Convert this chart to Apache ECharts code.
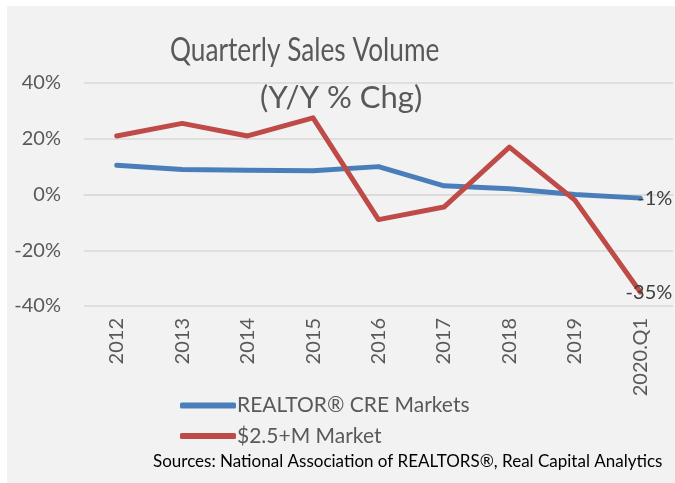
<!DOCTYPE html>
<html><head><meta charset="utf-8">
<script src="https://cdn.jsdelivr.net/npm/echarts@6/dist/echarts.min.js"></script>
<style>html,body{margin:0;padding:0;background:#fff;}#c{position:absolute;left:7px;top:6px;width:668px;height:477px;background:#f2f2f2;}</style>
</head><body><div id="c"></div>
<script>
const categories = ['2012','2013','2014','2015','2016','2017','2018','2019','2020.Q1'];
const realtorCRE = [10.5, 9, 8.7, 8.5, 10, 3.1, 2.1, 0, -1.3];
const bigMarket = [21, 25.5, 21, 27.5, -9, -4.5, 17, -2, -35];
const endLabels = ['-1%', '-35%'];
const seriesNames = ['REALTOR® CRE Markets', '$2.5+M Market'];
const titleLines = ['Quarterly Sales Volume', '(Y/Y % Chg)'];
const font = 'Lato, "Open Sans", sans-serif';
const chart = echarts.init(document.getElementById('c'));
function endLabel(txt){
  return {show:true, formatter:txt, distance:32, align:'right', verticalAlign:'middle', color:'#404040', fontSize:20, fontFamily:font};
}
chart.setOption({
  animation:false,
  grid:{left:77, right:2, top:77, bottom:177},
  legend:{orient:'vertical', left:168, top:384, itemGap:9.5, itemWidth:56, itemHeight:6, icon:'roundRect',
    textStyle:{fontFamily:font, fontSize:21, color:'#595959', padding:[0,0,0,-4]}, data:seriesNames},
  graphic:[
    {type:'text', x:163, y:45, scaleX:0.82, style:{text:titleLines[0], x:0, y:0, align:'left', verticalAlign:'middle', font:'32px '+font, fill:'#595959'}},
    {type:'text', x:253, y:92, scaleX:1.0, style:{text:titleLines[1], x:0, y:0, align:'left', verticalAlign:'middle', font:'31px '+font, fill:'#595959'}},
    {type:'text', left:146, top:447, style:{text:'Sources: National Association of REALTORS®, Real Capital Analytics', font:'17px '+font, fill:'#000'}}
  ],
  xAxis:{type:'category', data:categories, boundaryGap:true,
    axisLine:{lineStyle:{color:'#d9d9d9', width:1.5}}, axisTick:{show:false},
    axisLabel:{rotate:90, color:'#595959', fontSize:20, fontFamily:font, margin:12}},
  yAxis:{type:'value', min:-40, max:40, interval:20,
    axisLabel:{formatter:'{value}%', color:'#595959', fontSize:20, fontFamily:font, margin:23},
    splitLine:{lineStyle:{color:'#d9d9d9', width:1.5}}, axisLine:{show:false}, axisTick:{show:false}},
  series:[
    {name:seriesNames[0], type:'line', data:realtorCRE, showSymbol:false, symbol:'none', color:'#4a7ebb',
      lineStyle:{width:5, color:'#4a7ebb', cap:'round', join:'round'}, endLabel:endLabel(endLabels[0])},
    {name:seriesNames[1], type:'line', data:bigMarket, showSymbol:false, symbol:'none', color:'#be4b48',
      lineStyle:{width:5, color:'#be4b48', cap:'round', join:'round'}, endLabel:endLabel(endLabels[1])}
  ]
});
</script></body></html>
